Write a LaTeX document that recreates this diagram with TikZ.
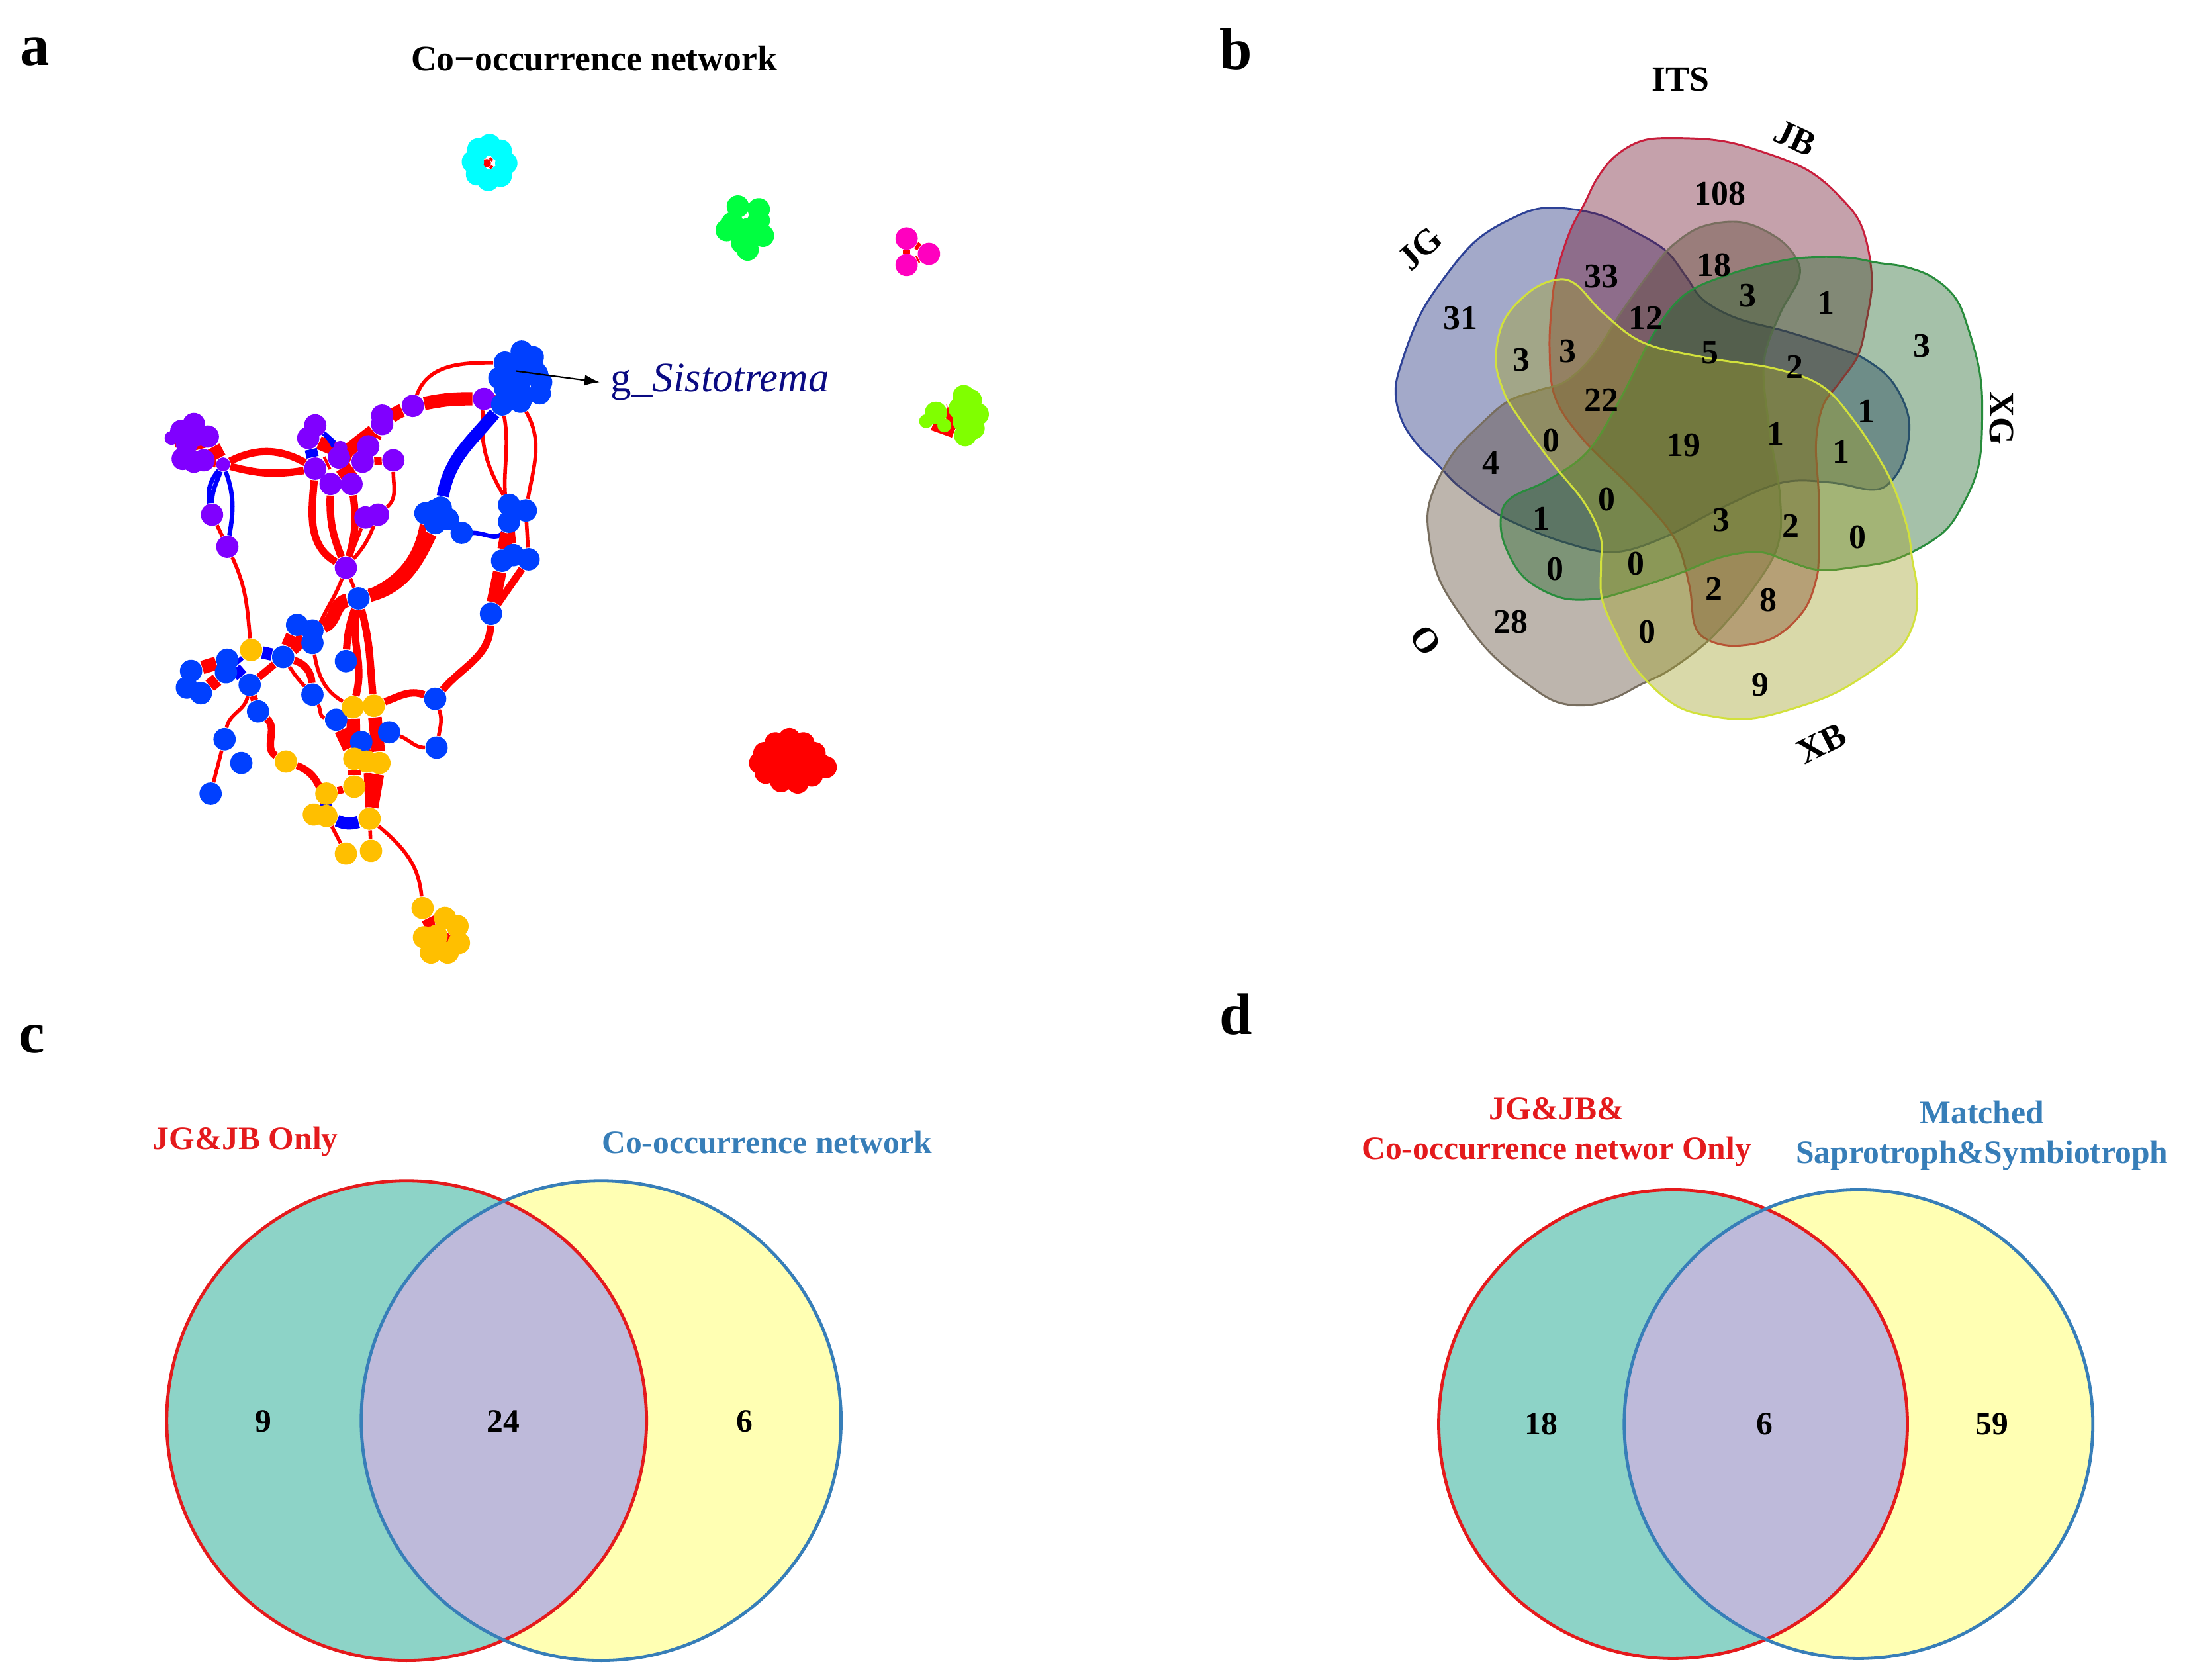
\documentclass[tikz,border=0pt]{standalone}
\usepackage{fontspec}
\setmainfont{Liberation Serif}
\usepackage{tikz}
\usetikzlibrary{positioning,arrows.meta,backgrounds}

\definecolor{netred}{RGB}{255,0,0}
\definecolor{netblue}{RGB}{0,0,255}
\definecolor{dotblue}{RGB}{0,64,255}
\definecolor{dotpurple}{RGB}{128,0,255}
\definecolor{dotorange}{RGB}{255,191,0}
\definecolor{dotcyan}{RGB}{0,255,255}
\definecolor{dotgreen}{RGB}{0,255,64}
\definecolor{dotpink}{RGB}{255,0,191}
\definecolor{dotlime}{RGB}{128,255,0}
\definecolor{sistblue}{RGB}{10,10,130}
\definecolor{setJG}{RGB}{25,40,120}
\definecolor{lineJG}{RGB}{45,65,150}
\definecolor{setJB}{RGB}{110,20,45}
\definecolor{lineJB}{RGB}{200,30,60}
\definecolor{setXG}{RGB}{30,100,40}
\definecolor{lineXG}{RGB}{40,140,60}
\definecolor{setXB}{RGB}{160,160,40}
\definecolor{lineXB}{RGB}{210,225,60}
\definecolor{setO}{RGB}{90,70,50}
\definecolor{lineO}{RGB}{120,110,95}
\definecolor{vennteal}{RGB}{141,211,199}
\definecolor{vennyellow}{RGB}{255,255,179}
\definecolor{vennlilac}{RGB}{190,186,218}
\definecolor{vennred}{RGB}{228,26,28}
\definecolor{vennblue}{RGB}{55,126,184}

\begin{document}
\begin{tikzpicture}[x=0.02cm, y=-0.02cm,
    dot/.style={circle, inner sep=0pt, minimum size=0.32cm},
    tiny/.style={minimum size=0.2cm},
    pdot/.style={dot, fill=dotpurple},
    bdot/.style={dot, fill=dotblue},
    ydot/.style={dot, fill=dotorange},
    cdot/.style={dot, fill=dotcyan},
    gdot/.style={dot, fill=dotgreen},
    kdot/.style={dot, fill=dotpink},
    ldot/.style={dot, fill=dotlime},
    rdot/.style={dot, fill=netred},
    redge/.style={draw=netred, line width=1.5pt},
    rmid/.style={draw=netred, line width=3pt},
    rthick/.style={draw=netred, line width=5.5pt},
    bedge/.style={draw=netblue, line width=1.8pt},
    bthick/.style={draw=netblue, line width=5pt},
    panel/.style={font=\fontsize{24}{26}\selectfont\bfseries},
    title/.style={font=\fontsize{14.5}{16}\selectfont\bfseries},
    vnum/.style={font=\fontsize{14}{16}\selectfont\bfseries},
    vset/.style={font=\fontsize{14.5}{16}\selectfont\bfseries, inner sep=0.5pt},
    vlabel/.style={font=\fontsize{13.4}{15}\selectfont\bfseries, anchor=base},
    cnum/.style={font=\fontsize{13.4}{15}\selectfont\bfseries}]

\useasboundingbox (0,0) rectangle (1568,1204);

\node[panel] (pa) at (25,37) {a};
\node[panel] (pb) at (886,35) {b};
\node[panel] (pc) at (23,745) {c};
\node[panel] (pd) at (886,727) {d};

\node[title] (nettitle) at (426,42) {Co−occurrence network};

\foreach \n/\x/\y in {pa1/139/304, pa2/130/309, pa3/149/313, pa4/134/318, pa5/141/312,
    pa6/131/329, pa7/139/331, pa8/146/330, pb1/152/369, pb2/163/392,
    pc1/226/305, pc2/221/314, pc3/226/336, pc4/243/328, pc5/264/320, pc6/260/331,
    pc7/282/330, pc8/237/347, pc9/252/347, pc10/274/298, pc11/274/304, pc12/296/291,
    pc13/347/286, pc14/262/371, pc15/271/369, pc16/248/407}
  \node[pdot] (\n) at (\x,\y) {};
\node[pdot, tiny] (pa9) at (123,314) {};
\node[pdot, tiny] (ps) at (160,333) {};
\node[pdot, tiny] (pc17) at (244,321) {};

\foreach \n/\x/\y in {s1/374/252, s2/382/256, s3/362/260, s4/382/263, s5/358/271,
    s6/372/275, s7/388/274, s8/362/278, s9/375/284, s10/387/282, s11/360/290,
    s12/373/288, s13/385/268, s14/370/266,
    m1/312/366, m2/305/368, m3/316/364, m4/321/372, m5/312/375, m6/331/382,
    r1/365/362, r2/377/366, r3/365/374, r4/360/402, r5/368/398, r6/379/401, r7/352/440,
    l1/257/429, l2/213/448, l3/224/452, l4/224/461, l5/203/471, l6/163/473, l7/162/482,
    l8/179/491, l9/137/481, l10/134/493, l11/144/497, l12/248/474, l13/224/498,
    l14/185/510, l15/161/530, l16/173/547, l17/151/569, l18/241/516, l19/279/525,
    l20/259/532, l21/312/501, l22/313/536}
  \node[bdot] (\n) at (\x,\y) {};

\foreach \n/\x/\y in {y1/180/466, y2/253/507, y3/268/506, y4/205/546, y5/254/544,
    y6/263/546, y7/272/547, y8/254/564, y9/234/569, y10/225/584, y11/234/585,
    y12/265/587, y13/248/612, y14/266/610, yc1/303/651, yc2/319/658, yc3/328/664,
    yc4/304/672, yc5/313/671, yc6/329/676, yc7/309/683, yc8/321/683}
  \node[ydot] (\n) at (\x,\y) {};

\node[circle, fill=netred, inner sep=0pt, minimum size=0.12cm] (cyanhub) at (349,117) {};
\foreach \n/\x/\y in {c1/343/107, c2/351/104, c3/359/108, c4/363/117, c5/359/126,
    c6/350/129, c7/342/125, c8/339/116}
  \node[cdot] (\n) at (\x,\y) {};

\foreach \n/\x/\y in {g1/529/148, g2/544/150, g3/525/160, g4/544/158, g5/547/169,
    g6/532/174, g7/536/179, g8/521/165, g9/537/164}
  \node[gdot] (\n) at (\x,\y) {};

\foreach \n/\x/\y in {k1/650/171, k2/650/190, k3/666/182}
  \node[kdot] (\n) at (\x,\y) {};

\foreach \n/\x/\y in {n1/691/284, n2/696/287, n3/671/296, n6/688/293, n7/701/297,
    n8/691/302, n9/698/307, n10/692/312}
  \node[ldot] (\n) at (\x,\y) {};
\node[ldot, tiny] (n4) at (664,302) {};
\node[ldot, tiny] (n5) at (677,305) {};

\foreach \n/\x/\y in {d1/548/540, d2/556/533, d3/566/530, d4/576/533, d5/584/540,
    d6/588/548, d7/582/556, d8/572/561, d9/560/560, d10/549/554, d11/556/546,
    d12/570/545, d13/578/547, d14/545/547, d15/592/550, d16/565/539, d17/563/552,
    d18/574/552, d19/553/540}
  \node[rdot] (\n) at (\x,\y) {};

\begin{scope}[on background layer]
\draw[rthick] (pa2) -- (pa6);
\draw[rthick] (pa1) -- (pa8);
\draw[rthick] (pa3) -- (ps);
\draw[rmid] (pa7) -- (ps);
\draw[rmid] (ps) to[bend left=28] (pc3);
\draw[rmid] (ps) to[bend right=12] (pc3);
\draw[bedge] (ps) to[out=-110, in=90] (pb1);
\draw[bedge] (ps) to[out=-70, in=80] (pb2);
\draw[bedge] (pb1) to[bend left=25] (ps);
\draw[redge] (pb1) -- (pb2);
\draw[redge] (pb2) to[out=-65, in=95] (y1);
\draw[rthick] (pc2) -- (pc6);
\draw[rthick] (pc3) -- (pc4);
\draw[rthick] (pc4) -- (pc9);
\draw[rthick] (pc8) -- (pc6);
\draw[rthick] (pc4) -- (pc11);
\draw[rthick] (pc5) -- (pc11);
\draw[rmid] (pc6) -- (pc7);
\draw[bthick] (pc2) -- (pc3);
\draw[bedge] (pc1) -- (pc17);
\draw[bedge] (pc1) to[bend left=10] (pc4);
\draw[rthick] (pc11) to[bend left=8] (pc12);
\draw[rthick] (pc12) to[bend left=6] (pc13);
\draw[rthick] (pc13) -- (s11);
\draw[redge] (pc12) to[out=70, in=180] (s3);
\draw[rthick] (s3) -- (s12);
\draw[rthick] (s5) -- (s9);
\draw[redge] (pc13) to[out=-95, in=120] (r1);
\draw[redge] (s11) to[out=-80, in=100] (r3);
\draw[redge] (s12) to[out=-60, in=80] (r2);
\draw[bthick] (m3) to[out=80, in=-130] (s11);
\draw[bedge] (m6) to[out=0, in=-120] (r3);
\draw[rthick] (r3) -- (r4);
\draw[rmid] (r1) -- (r5);
\draw[redge] (r2) -- (r6);
\draw[rthick] (r4) -- (r7);
\draw[rmid] (r6) -- (r7);
\draw[rmid] (r7) to[out=-92, in=50] (l21);
\draw[rmid] (pc8) to[bend right=12] (pc16);
\draw[rmid] (pc9) to[bend left=12] (pc16);
\draw[redge] (pc14) -- (pc16);
\draw[redge] (pc15) to[bend left=10] (pc16);
\draw[rmid] (pc3) to[out=-95, in=150] (pc16);
\draw[redge] (pc7) to[out=-90, in=40] (pc15);
\draw[rthick] (m5) to[out=-115, in=15] (l1);
\draw[rmid] (m2) to[out=-100, in=25] (l1);
\draw[rthick] (l1) to[out=-170, in=20] (l3);
\draw[rthick] (l3) -- (l5);
\draw[rthick] (l2) -- (l5);
\draw[redge] (pc16) -- (l1);
\draw[redge] (pc16) to[out=-110, in=70] (l4);
\draw[bthick] (l5) -- (y1);
\draw[bthick] (l6) -- (l8);
\draw[bedge] (y1) -- (l7);
\draw[rthick] (l6) -- (l9);
\draw[rthick] (l7) -- (l11);
\draw[rmid] (l9) -- (l10);
\draw[rmid] (l5) -- (l8);
\draw[rmid] (l5) to[bend left=35] (l13);
\draw[redge] (l5) to[bend right=5] (l13);
\draw[rmid] (l8) -- (l14);
\draw[redge] (l8) to[out=-100, in=80] (l15);
\draw[redge] (l15) -- (l17);
\draw[rmid] (l1) to[bend right=8] (l12);
\draw[rmid] (l1) to[out=-75, in=95] (y3);
\draw[rmid] (l1) to[out=-100, in=75] (y2);
\draw[redge] (l4) to[out=-80, in=150] (y2);
\draw[redge] (l13) to[out=-60, in=170] (l18);
\draw[rthick] (y2) -- (y5);
\draw[rthick] (y3) -- (y7);
\draw[rthick] (l18) -- (y5);
\draw[rthick] (l20) -- (y6);
\draw[rmid] (y3) to[out=20, in=160] (l21);
\draw[redge] (l19) to[out=-20, in=180] (l22);
\draw[redge] (l21) to[out=-70, in=80] (l22);
\draw[rthick] (y5) -- (y8);
\draw[rthick] (y7) -- (y12);
\draw[rmid] (y6) -- (y12);
\draw[rmid] (y4) to[out=-20, in=100] (y11);
\draw[rmid] (l14) to[out=-40, in=150] (y4);
\draw[bthick] (y9) -- (y11);
\draw[bthick] (y11) to[bend right=20] (y12);
\draw[rmid] (y8) -- (y9);
\draw[redge] (y12) -- (y14);
\draw[redge] (y11) -- (y13);
\draw[redge] (y12) to[out=-40, in=95] (yc1);
\draw[rthick] (yc1) -- (yc5);
\draw[rthick] (yc2) -- (yc4);
\draw[rthick] (yc3) -- (yc7);
\foreach \n in {c1,c3,c5,c7} \draw[redge] (cyanhub) -- (\n);
\draw[rthick] (g1) -- (g8);
\draw[rthick] (g3) -- (g6);
\draw[rthick] (g8) -- (g7);
\draw[rmid] (k1) -- (k2);
\draw[rmid] (k1) -- (k3);
\draw[rmid] (k2) -- (k3);
\draw[rthick] (n3) -- (n6);
\draw[rthick] (n4) -- (n10);
\draw[rthick] (n3) -- (n10);
\draw[rthick] (n5) -- (n1);
\end{scope}

\node[anchor=west, inner sep=0.15cm, text=sistblue, font=\fontsize{17}{19}\selectfont]
  (sist) at (430,274) {g\_\textit{Sistotrema}};
\draw[-{Latex[length=0.22cm, width=0.16cm]}, line width=0.6pt] (s14.center) -- (sist.west);

\foreach \ang/\fc/\lc in {72/setJG/lineJG, 0/setJB/lineJB, 144/setO/lineO,
    -72/setXG/lineXG, -144/setXB/lineXB}
  \filldraw[fill=\fc, fill opacity=0.4, draw=\lc, line width=0.8pt,
      rotate around={\ang:(1212,312)}]
    plot[smooth cycle, tension=0.6] coordinates {(1200,99) (1234,101) (1264,109)
      (1296,122) (1319,141) (1335,163) (1342,199) (1338,231) (1332,255) (1319,274)
      (1307,291) (1302,318) (1304,356) (1304,397) (1302,416) (1293,438) (1272,457)
      (1245,463) (1225,459) (1215,448) (1211,419) (1200,385) (1170,350) (1135,315)
      (1115,285) (1111,250) (1113,214) (1117,192) (1126,165) (1136,146) (1145,128)
      (1158,112) (1177,101)};

\node[vset] (its) at (1205,57) {ITS};
\node[vset, rotate=-25] (setjb) at (1287,99) {JB};
\node[vset, rotate=42] (setjg) at (1018,178) {JG};
\node[vset, rotate=-90] (setxg) at (1435,300) {XG};
\node[vset, rotate=27] (setxb) at (1306,533) {XB};
\node[vset, rotate=-55] (seto) at (1022,459) {O};

\foreach \v/\x/\y [count=\i] in {108/1233/139, 33/1148/198, 18/1229/190, 3/1253/212,
    1/1309/217, 31/1047/228, 12/1180/228, 3/1091/258, 3/1124/252, 5/1226/253,
    2/1287/263, 3/1378/248, 22/1148/287, 1/1338/295, 0/1112/316, 19/1207/319,
    1/1273/311, 1/1320/324, 4/1069/332, 0/1152/358, 1/1105/372, 3/1234/373,
    2/1284/377, 0/1332/385, 0/1115/408, 0/1173/404, 2/1229/422, 8/1268/430,
    28/1083/446, 0/1181/453, 9/1262/491}
  \node[vnum] (v\i) at (\x,\y) {\v};

\fill[vennteal] (291.5,1018.5) circle [radius=172];
\fill[vennyellow] (431,1018.5) circle [radius=172];
\begin{scope}
  \clip (291.5,1018.5) circle [radius=172];
  \fill[vennlilac] (431,1018.5) circle [radius=172];
\end{scope}
\draw[vennred, line width=1.3pt] (291.5,1018.5) circle [radius=172];
\draw[vennblue, line width=1.3pt] (431,1018.5) circle [radius=172];
\node[vlabel, text=vennred] (clbl1) at (176,824) {JG\&JB Only};
\node[vlabel, text=vennblue] (clbl2) at (550,827) {Co-occurrence network};
\node[cnum] (cn1) at (189,1019) {9};
\node[cnum] (cn2) at (361,1019) {24};
\node[cnum] (cn3) at (534,1019) {6};

\fill[vennteal] (1199.5,1021) circle [radius=168];
\fill[vennyellow] (1332.5,1021) circle [radius=168];
\begin{scope}
  \clip (1199.5,1021) circle [radius=168];
  \fill[vennlilac] (1332.5,1021) circle [radius=168];
\end{scope}
\draw[vennred, line width=1.3pt] (1199.5,1021) circle [radius=168];
\draw[vennblue, line width=1.3pt] (1332.5,1021) circle [radius=168];
\node[vlabel, text=vennred] (dlbl1) at (1116,802.5) {JG\&JB\&};
\node[vlabel, text=vennred] (dlbl2) at (1116,831) {Co-occurrence networ Only};
\node[vlabel, text=vennblue] (dlbl3) at (1421,805.5) {Matched};
\node[vlabel, text=vennblue] (dlbl4) at (1421,834) {Saprotroph\&Symbiotroph};
\node[cnum] (dn1) at (1105,1021) {18};
\node[cnum] (dn2) at (1265,1021) {6};
\node[cnum] (dn3) at (1428,1021) {59};
\end{tikzpicture}
\end{document}
